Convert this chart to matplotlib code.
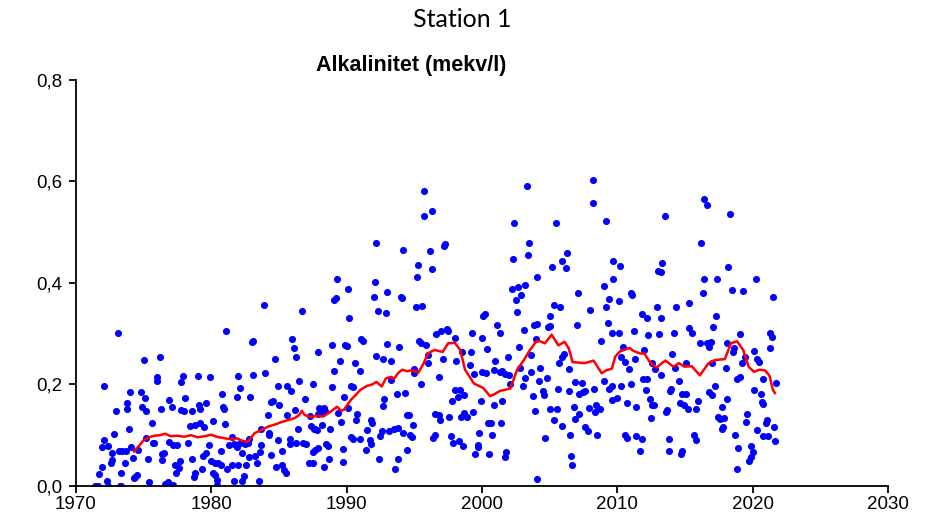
import matplotlib
matplotlib.use("Agg")
import matplotlib.pyplot as plt
from matplotlib.ticker import FuncFormatter


years = [
    1971.4, 1971.6, 1971.7, 1971.9, 1971.9, 1972.1, 1972.1, 1972.3, 1972.35, 1972.4,
    1972.6, 1972.7, 1972.7, 1972.8, 1973.0, 1973.08, 1973.2, 1973.25, 1973.3, 1973.35,
    1973.4, 1973.6, 1973.7, 1973.8, 1973.8, 1973.9, 1974.0, 1974.1, 1974.2, 1974.3,
    1974.4, 1974.5, 1974.6, 1974.8, 1974.9, 1975.0, 1975.1, 1975.2, 1975.2, 1975.3,
    1975.4, 1975.6, 1975.7, 1975.8, 1976.0, 1976.0, 1976.2, 1976.3, 1976.4, 1976.4,
    1976.5, 1976.6,
    1976.8, 1976.9, 1976.9, 1977.1, 1977.2, 1977.2, 1977.3, 1977.4, 1977.5, 1977.6,
    1977.7, 1977.8, 1977.8, 1977.9, 1978.0, 1978.1, 1978.3, 1978.4, 1978.6, 1978.6,
    1978.7, 1978.8, 1978.8, 1979.0, 1979.1, 1979.2, 1979.2, 1979.3, 1979.4, 1979.5,
    1979.6, 1979.6, 1979.8, 1979.9, 1980.0, 1980.1, 1980.1, 1980.3, 1980.3, 1980.4,
    1980.4, 1980.5, 1980.7, 1980.7, 1980.8, 1980.9, 1980.95, 1981.0, 1981.1, 1981.2,
    1981.3, 1981.5, 1981.5, 1981.7, 1981.7, 1981.9, 1981.9, 1982.0, 1982.1,
    1981.8, 1982.0, 1982.1, 1982.3, 1982.3, 1982.4, 1982.5, 1982.6, 1982.7, 1982.8,
    1982.8, 1982.9, 1983.0, 1983.1, 1983.1, 1983.2, 1983.4, 1983.5, 1983.6, 1983.7,
    1983.7, 1983.9, 1984.0, 1984.2, 1984.3, 1984.3, 1984.4, 1984.4, 1984.6, 1984.7,
    1984.8, 1984.9, 1984.9, 1985.0, 1985.2, 1985.2, 1985.4, 1985.5, 1985.6, 1985.6,
    1985.8, 1985.8, 1985.9, 1986.0, 1986.1, 1986.2, 1986.3, 1986.3, 1986.4, 1986.5,
    1986.7, 1986.8, 1986.9, 1987.0, 1987.2, 1987.4, 1987.5, 1987.5, 1987.5, 1987.6,
    1987.3, 1987.7, 1987.7, 1987.8, 1987.9, 1987.9, 1987.9, 1988.0, 1988.1, 1988.2,
    1988.3, 1988.3, 1988.4, 1988.5, 1988.6, 1988.7, 1988.8, 1988.9, 1988.9, 1989.1,
    1989.1, 1989.2, 1989.3, 1989.4, 1989.5, 1989.6, 1989.7, 1989.7, 1989.8, 1989.9,
    1990.0, 1990.1, 1990.1, 1990.2, 1990.3, 1990.3, 1990.5, 1990.5, 1990.6, 1990.7,
    1990.8, 1991.0, 1991.0, 1991.1, 1991.2, 1991.4, 1991.5, 1991.7, 1991.8, 1991.8,
    1991.9, 1992.0, 1992.1, 1992.2, 1992.2, 1992.3, 1992.4, 1992.5, 1992.6, 1992.7,
    1992.7, 1992.8, 1992.9, 1993.0, 1993.0, 1993.1,
    1993.3, 1993.3, 1993.5, 1993.6, 1993.7, 1993.8, 1993.8, 1993.9, 1994.0, 1994.1,
    1994.2, 1994.2, 1994.3, 1994.5, 1994.5, 1994.6, 1994.7, 1994.8, 1994.9, 1995.0,
    1995.0, 1995.1, 1995.2, 1995.3, 1995.35, 1995.5, 1995.5, 1995.6, 1995.7, 1995.7,
    1995.9, 1996.0, 1996.0, 1996.2, 1996.3, 1996.3, 1996.4, 1996.5, 1996.5, 1996.6,
    1996.8, 1996.8, 1996.9, 1997.0, 1997.1, 1997.2, 1997.3, 1997.4, 1997.5, 1997.6,
    1997.7, 1997.8, 1997.9, 1998.0, 1998.0, 1998.1, 1998.2, 1998.3, 1998.35, 1998.45,
    1998.55, 1998.6, 1998.65, 1998.7,
    1998.9, 1999.1, 1999.2, 1999.3, 1999.35, 1999.45, 1999.5, 1999.7, 1999.7, 1999.8,
    1999.9, 2000.0, 2000.0, 2000.1, 2000.2, 2000.3, 2000.4, 2000.45, 2000.55, 2000.7,
    2000.75, 2000.9, 2000.9, 2001.0, 2001.1, 2001.3, 2001.3, 2001.4, 2001.5, 2001.5,
    2001.7, 2001.7, 2001.8, 2001.9, 2002.0, 2002.1, 2002.2, 2002.3, 2002.4, 2002.5,
    2002.6, 2002.7, 2002.75, 2002.8, 2002.9, 2003.0, 2003.1, 2003.2, 2003.2, 2003.3,
    2003.4, 2003.5, 2003.6, 2003.65, 2003.75, 2003.85, 2003.9, 2004.0, 2004.1, 2004.1,
    2004.1, 2004.25, 2004.3,
    2004.5, 2004.6, 2004.65, 2004.8, 2004.9, 2005.0, 2005.05, 2005.05, 2005.2, 2005.3,
    2005.35, 2005.45, 2005.55, 2005.6, 2005.7, 2005.75, 2005.9, 2005.95, 2005.95, 2006.05,
    2006.2, 2006.3, 2006.4, 2006.4, 2006.5, 2006.6, 2006.65, 2006.8, 2006.9, 2006.9,
    2007.0, 2007.1, 2007.2, 2007.2, 2007.4, 2007.5, 2007.6, 2007.65, 2007.85, 2007.9,
    2008.0, 2008.2, 2008.2, 2008.3, 2008.35, 2008.4, 2008.5, 2008.7, 2008.8, 2009.0,
    2009.05, 2009.15, 2009.2, 2009.35, 2009.4, 2009.4, 2009.6, 2009.6, 2009.6, 2009.7,
    2009.7,
    2010.0, 2010.1, 2010.1, 2010.2, 2010.3, 2010.3, 2010.45, 2010.55, 2010.6, 2010.75,
    2010.75, 2010.9, 2011.0, 2011.0, 2011.1, 2011.25, 2011.3, 2011.4, 2011.4, 2011.7,
    2011.8, 2011.8, 2011.9, 2012.0, 2012.1, 2012.2, 2012.2, 2012.3, 2012.4, 2012.5,
    2012.6, 2012.6, 2012.7, 2012.8, 2012.9, 2013.0, 2013.1, 2013.2, 2013.2, 2013.2,
    2013.3, 2013.5, 2013.6, 2013.7, 2013.8, 2013.85, 2013.9, 2013.95, 2014.05, 2014.2,
    2014.25, 2014.35, 2014.55, 2014.6, 2014.7, 2014.75, 2014.75, 2014.9, 2015.05, 2015.1,
    2015.2, 2015.3, 2015.3,
    2015.5, 2015.65, 2015.8, 2015.85, 2016.0, 2016.1, 2016.2, 2016.3, 2016.4, 2016.4,
    2016.6, 2016.65, 2016.75, 2016.8, 2016.9, 2017.0, 2017.0, 2017.1, 2017.2, 2017.3,
    2017.4, 2017.45, 2017.6, 2017.7, 2017.75, 2017.8, 2017.9, 2018.0, 2018.1, 2018.1,
    2018.2, 2018.3, 2018.45, 2018.55, 2018.6, 2018.7, 2018.85, 2018.85, 2018.95, 2019.05,
    2019.1, 2019.2, 2019.3, 2019.4, 2019.5, 2019.55, 2019.75, 2019.85, 2019.85, 2020.0,
    2020.1, 2020.1, 2020.25, 2020.3, 2020.3, 2020.5, 2020.6, 2020.7, 2020.8, 2020.8,
    2020.75, 2021.0, 2021.05, 2021.15, 2021.25, 2021.3, 2021.4, 2021.5, 2021.6, 2021.65,
    2021.75,
]

alkalinity = [
    0.0, 0.0, 0.024, 0.037, 0.076, 0.196, 0.091, 0.010, 0.0, 0.079,
    0.046, 0.051, 0.064, 0.102, 0.148, 0.301, 0.068, 0.0, 0.026, 0.0,
    0.068, 0.045, 0.068, 0.164, 0.151, 0.113, 0.186, 0.076, 0.055, 0.016,
    0.018, 0.021, 0.070, 0.186, 0.156, 0.248, 0.173, 0.148, 0.094, 0.053,
    0.008, 0.125, 0.084, 0.084, 0.215, 0.206, 0.255, 0.151, 0.063, 0.051,
    0.065, 0.004,
    0.007, 0.169, 0.087, 0.155, 0.080, 0.001, 0.041, 0.025, 0.080, 0.035,
    0.050, 0.204, 0.149, 0.217, 0.148, 0.173, 0.084, 0.118, 0.148, 0.054,
    0.018, 0.121, 0.026, 0.217, 0.159, 0.152, 0.125, 0.033, 0.059, 0.117,
    0.163, 0.064, 0.080, 0.214, 0.050, 0.128, 0.026, 0.046, 0.021, 0.012,
    0.001, 0.045, 0.041, 0.068, 0.181, 0.156, 0.151, 0.122, 0.305, 0.033,
    0.080, 0.097, 0.041, 0.083, 0.010, 0.077, 0.175, 0.217, 0.193,
    0.080, 0.041, 0.084, 0.064, 0.009, 0.020, 0.083, 0.041, 0.085, 0.093,
    0.058, 0.176, 0.284, 0.286, 0.219, 0.060, 0.046, 0.010, 0.066, 0.112,
    0.081, 0.356, 0.223, 0.139, 0.105, 0.101, 0.166, 0.062, 0.168, 0.251,
    0.037, 0.196, 0.091, 0.159, 0.068, 0.041, 0.032, 0.025, 0.196, 0.140,
    0.093, 0.083, 0.188, 0.289, 0.272, 0.150, 0.255, 0.085, 0.113, 0.207,
    0.344, 0.084, 0.171, 0.083, 0.045, 0.118, 0.201, 0.045, 0.067, 0.113,
    0.137, 0.112, 0.071, 0.110, 0.264, 0.142, 0.075, 0.154, 0.144, 0.121,
    0.154, 0.037, 0.148, 0.083, 0.079, 0.054, 0.113, 0.278, 0.194, 0.366,
    0.226, 0.370, 0.407, 0.143, 0.247, 0.126, 0.072, 0.047, 0.175, 0.277,
    0.276, 0.389, 0.154, 0.330, 0.196, 0.096, 0.194, 0.093, 0.242, 0.130,
    0.142, 0.227, 0.092, 0.290, 0.286, 0.070, 0.110, 0.091, 0.129, 0.083,
    0.125, 0.373, 0.402, 0.478, 0.256, 0.345, 0.053, 0.099, 0.108, 0.251,
    0.158, 0.172, 0.341, 0.382, 0.280, 0.108,
    0.246, 0.209, 0.112, 0.034, 0.181, 0.114, 0.054, 0.274, 0.373, 0.370,
    0.465, 0.104, 0.184, 0.139, 0.070, 0.140, 0.100, 0.097, 0.120, 0.231,
    0.223, 0.352, 0.411, 0.435, 0.286, 0.281, 0.200, 0.355, 0.581, 0.532,
    0.277, 0.258, 0.242, 0.462, 0.541, 0.427, 0.095, 0.142, 0.100, 0.300,
    0.215, 0.139, 0.130, 0.306, 0.251, 0.472, 0.476, 0.309, 0.305, 0.135,
    0.099, 0.168, 0.084, 0.292, 0.189, 0.246, 0.175, 0.089, 0.189, 0.135,
    0.263, 0.079, 0.143, 0.180,
    0.135, 0.239, 0.264, 0.302, 0.146, 0.221, 0.063, 0.080, 0.076, 0.105,
    0.167, 0.292, 0.225, 0.335, 0.338, 0.222, 0.269, 0.125, 0.063, 0.124,
    0.100, 0.229, 0.159, 0.246, 0.317, 0.302, 0.225, 0.124, 0.226, 0.168,
    0.221, 0.057, 0.067, 0.254, 0.219, 0.200, 0.389, 0.447, 0.519, 0.366,
    0.343, 0.392, 0.274, 0.233, 0.377, 0.197, 0.307, 0.395, 0.213, 0.591,
    0.455, 0.479, 0.225, 0.259, 0.177, 0.318, 0.148, 0.289, 0.411, 0.319,
    0.014, 0.206, 0.233,
    0.187, 0.179, 0.095, 0.213, 0.313, 0.152, 0.334, 0.315, 0.432, 0.129,
    0.356, 0.518, 0.152, 0.192, 0.242, 0.353, 0.444, 0.255, 0.118, 0.260,
    0.430, 0.459, 0.230, 0.188, 0.100, 0.059, 0.041, 0.156, 0.204, 0.131,
    0.318, 0.380, 0.181, 0.142, 0.202, 0.185, 0.187, 0.116, 0.108, 0.154,
    0.347, 0.603, 0.557, 0.192, 0.146, 0.159, 0.101, 0.152, 0.286, 0.207,
    0.394, 0.352, 0.521, 0.322, 0.369, 0.192, 0.196, 0.169, 0.301, 0.444,
    0.407,
    0.173, 0.365, 0.302, 0.433, 0.255, 0.197, 0.274, 0.101, 0.244, 0.164,
    0.095, 0.230, 0.380, 0.201, 0.376, 0.306, 0.250, 0.155, 0.099, 0.068,
    0.339, 0.093, 0.211, 0.268, 0.190, 0.331, 0.210, 0.297, 0.172, 0.133,
    0.242, 0.159, 0.160, 0.231, 0.352, 0.423, 0.300, 0.422, 0.331, 0.218,
    0.439, 0.532, 0.146, 0.150, 0.068, 0.092, 0.187, 0.192, 0.260, 0.301,
    0.233, 0.352, 0.207, 0.164, 0.063, 0.181, 0.068, 0.159, 0.181, 0.242,
    0.151, 0.361, 0.311,
    0.301, 0.101, 0.152, 0.091, 0.168, 0.281, 0.478, 0.381, 0.566, 0.407,
    0.554, 0.281, 0.274, 0.185, 0.284, 0.243, 0.180, 0.314, 0.196, 0.334,
    0.408, 0.135, 0.131, 0.113, 0.155, 0.116, 0.133, 0.233, 0.282, 0.172,
    0.431, 0.536, 0.386, 0.263, 0.272, 0.101, 0.211, 0.034, 0.075, 0.300,
    0.215, 0.242, 0.385, 0.255, 0.126, 0.142, 0.049, 0.079, 0.058, 0.067,
    0.265, 0.189, 0.407, 0.251, 0.110, 0.244, 0.181, 0.166, 0.211, 0.099,
    0.162, 0.125, 0.129, 0.099, 0.271, 0.301, 0.293, 0.373, 0.117, 0.089,
    0.202,
]

# Running mean (red line)
trend_years = [
    1974.3, 1974.7, 1975.0, 1975.4, 1975.8, 1976.2, 1976.6, 1977.0, 1977.5, 1978.0,
    1978.5, 1979.0, 1979.5, 1980.0, 1980.4, 1980.8, 1981.2, 1981.5, 1981.9, 1982.3,
    1982.7, 1983.2, 1983.7, 1984.2, 1984.7, 1985.2, 1985.7, 1986.2, 1986.5, 1986.7,
    1986.9, 1987.3, 1987.8, 1988.3, 1988.8, 1989.3, 1989.6, 1989.8, 1990.3, 1990.7,
    1991.0, 1991.5, 1991.9, 1992.2, 1992.6, 1992.9, 1993.3, 1993.5, 1993.8, 1994.1,
    1994.5, 1994.8, 1995.3, 1995.7, 1996.0, 1996.5, 1997.1, 1997.5, 1998.0, 1998.4,
    1998.75, 1999.1, 1999.4, 2000.1, 2000.6, 2001.0, 2001.3, 2002.1, 2002.6, 2003.1,
    2003.55, 2004.05, 2004.3, 2004.65, 2005.15, 2005.65, 2006.1, 2006.4, 2006.7, 2007.6,
    2008.25, 2008.85, 2009.2, 2009.6, 2009.85, 2010.2, 2010.9, 2011.2, 2011.7, 2012.0,
    2012.4, 2012.9, 2013.2, 2013.55, 2014.15, 2014.55, 2014.95, 2015.5, 2016.1, 2016.75,
    2017.2, 2017.95, 2018.4, 2018.85, 2019.3, 2019.7, 2020.1, 2020.5, 2020.9, 2021.25,
    2021.5, 2021.65,
]

trend_values = [
    0.068, 0.080, 0.090, 0.096, 0.099, 0.100, 0.103, 0.098, 0.099, 0.097,
    0.100, 0.096, 0.098, 0.101, 0.097, 0.095, 0.093, 0.092, 0.094, 0.089,
    0.087, 0.104, 0.110, 0.117, 0.121, 0.126, 0.130, 0.134, 0.140, 0.148,
    0.140, 0.136, 0.138, 0.137, 0.146, 0.156, 0.148, 0.150, 0.169, 0.180,
    0.189, 0.197, 0.200, 0.205, 0.196, 0.212, 0.215, 0.211, 0.222, 0.229,
    0.226, 0.228, 0.223, 0.242, 0.261, 0.268, 0.264, 0.281, 0.282, 0.268,
    0.229, 0.215, 0.202, 0.193, 0.177, 0.182, 0.187, 0.192, 0.229, 0.248,
    0.268, 0.286, 0.285, 0.281, 0.298, 0.277, 0.284, 0.272, 0.244, 0.242,
    0.247, 0.222, 0.228, 0.231, 0.255, 0.265, 0.272, 0.266, 0.261, 0.261,
    0.244, 0.233, 0.240, 0.247, 0.235, 0.242, 0.235, 0.236, 0.218, 0.242,
    0.248, 0.250, 0.281, 0.285, 0.268, 0.235, 0.225, 0.229, 0.228, 0.217,
    0.189, 0.183,
]

x_ticks = [1970, 1980, 1990, 2000, 2010, 2020, 2030]
y_ticks = [0.0, 0.2, 0.4, 0.6, 0.8]


def comma_decimal(value, _pos):
    return f"{value:.1f}".replace(".", ",")


fig = plt.figure(figsize=(9.25, 5.22), dpi=100)
ax = fig.add_axes([0.082, 0.069, 0.878, 0.778])

ax.scatter(years, alkalinity, s=26, color="#0000ff", linewidths=0, zorder=2)
ax.plot(trend_years, trend_values, color="#ff0000", linewidth=1.8, zorder=3)

ax.set_xlim(1970, 2030)
ax.set_ylim(0, 0.8)
ax.set_xticks(x_ticks)
ax.set_yticks(y_ticks)
ax.yaxis.set_major_formatter(FuncFormatter(comma_decimal))

for side in ("top", "right"):
    ax.spines[side].set_visible(False)
for side in ("left", "bottom"):
    ax.spines[side].set_linewidth(1.3)
    ax.spines[side].set_color("#000000")

ax.tick_params(direction="out", length=5, width=1.3, colors="#000000",
               labelsize=13.5)
for label in ax.get_xticklabels() + ax.get_yticklabels():
    label.set_family("Liberation Sans")
ax.tick_params(axis="y", pad=5)
ax.tick_params(axis="x", pad=2)

fig.text(0.5, 0.963, "Station 1", ha="center", va="center",
         fontsize=18, family="Lato")
fig.text(0.445, 0.874, "Alkalinitet (mekv/l)", ha="center", va="center",
         fontsize=15.5, fontweight="bold", family="Liberation Sans")

fig.savefig("out.png", dpi=100)
